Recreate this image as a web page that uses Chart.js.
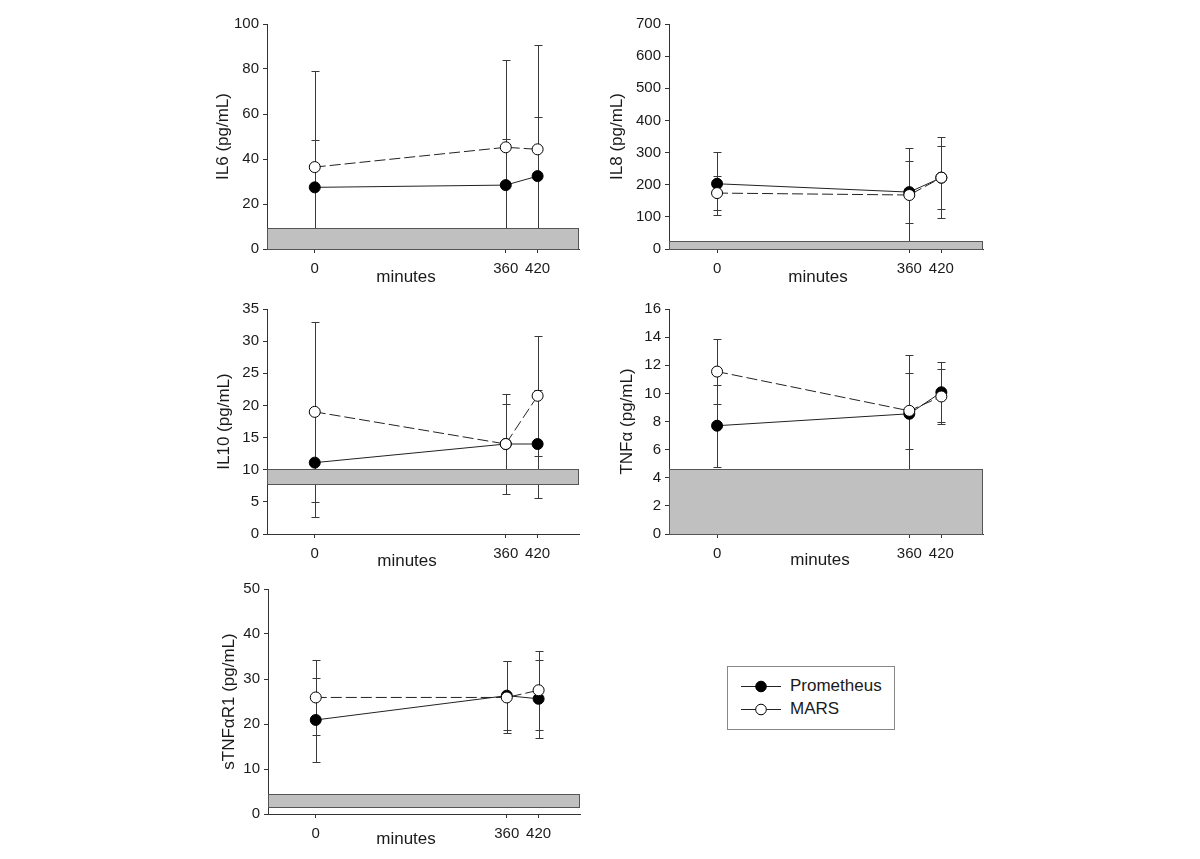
<!DOCTYPE html>
<html>
<head>
<meta charset="utf-8">
<script src="https://cdn.jsdelivr.net/npm/chart.js@4/dist/chart.umd.min.js"></script>
<style>
  html, body { margin: 0; padding: 0; background: #fff; }
  body { width: 1200px; height: 859px; position: relative; overflow: hidden; font-family: 'Liberation Sans', Arial, sans-serif; }
  .pane { position: absolute; }
  #legend { position: absolute; border: 1px solid #888; background: #fff; color: #1a1a1a; }
  .lrow { position: absolute; height: 20px; width: 150px; }
  .lrow svg { position: absolute; left: 12px; top: 0; }
  .lrow span { position: absolute; left: 62px; top: 0; line-height: 20px; font-size: 17px; white-space: nowrap; }
</style>
</head>
<body>
<div id="legend"></div>
<script>
// ---------------- data ----------------
const times = [0, 360, 420];
const timeLabels = ['0', '360', '420'];
const seriesNames = ['Prometheus', 'MARS'];

const titles = ['IL6 (pg/mL)', 'IL8 (pg/mL)', 'IL10 (pg/mL)', 'TNFα (pg/mL)', 'sTNFαR1 (pg/mL)'];
const xTitle = 'minutes';

// IL6
const il6Prometheus = [27.4, 28.4, 32.4];
const il6PrometheusErr = [21.0, 20.5, 26.4];
const il6Mars = [36.4, 45.2, 44.3];
const il6MarsErr = [42.6, 38.9, 46.5];
const il6Normal = [0, 9.3];
const il6Axis = [0, 100, 20];

// IL8
const il8Prometheus = [203, 177, 222];
const il8PrometheusErr = [98, 96, 99];
const il8Mars = [174, 168, 222];
const il8MarsErr = [54, 146, 126];
const il8Normal = [0, 26];
const il8Axis = [0, 700, 100];

// IL10
const il10Prometheus = [11.1, 14.0, 14.0];
const il10PrometheusErr = [8.4, 7.8, 8.4];
const il10Mars = [19.0, 14.0, 21.5];
const il10MarsErr = [14.0, 6.2, 9.3];
const il10Normal = [7.75, 10.05];
const il10Axis = [0, 35, 5];

// TNF alpha
const tnfPrometheus = [7.7, 8.55, 10.08];
const tnfPrometheusErr = [2.9, 4.2, 2.13];
const tnfMars = [11.55, 8.76, 9.78];
const tnfMarsErr = [2.32, 2.68, 1.95];
const tnfNormal = [0, 4.65];
const tnfAxis = [0, 16, 2];

// sTNF alpha R1
const stnfPrometheus = [20.9, 26.3, 25.6];
const stnfPrometheusErr = [9.3, 7.6, 8.7];
const stnfMars = [25.9, 25.9, 27.5];
const stnfMarsErr = [8.3, 8.0, 8.8];
const stnfNormal = [1.6, 4.45];
const stnfAxis = [0, 50, 10];

const xRange = [-90, 498];

// ---------------- layout ----------------
const layouts = [
  { left: 267, top: 23.5, w: 312, h: 225, yOff: 44, xDx: -17, xDy: 28.5 },
  { left: 669, top: 23.5, w: 314, h: 225, yOff: 52, xDx: -8, xDy: 28.5 },
  { left: 267, top: 309, w: 312, h: 225, yOff: 43, xDx: -16, xDy: 27.5 },
  { left: 669, top: 309, w: 314, h: 225, yOff: 42, xDx: -6, xDy: 26 },
  { left: 268, top: 588.5, w: 312, h: 225, yOff: 38.5, xDx: -18, xDy: 25.5 }
];

const panels = [
  [il6Prometheus, il6PrometheusErr, il6Mars, il6MarsErr, il6Normal, il6Axis],
  [il8Prometheus, il8PrometheusErr, il8Mars, il8MarsErr, il8Normal, il8Axis],
  [il10Prometheus, il10PrometheusErr, il10Mars, il10MarsErr, il10Normal, il10Axis],
  [tnfPrometheus, tnfPrometheusErr, tnfMars, tnfMarsErr, tnfNormal, tnfAxis],
  [stnfPrometheus, stnfPrometheusErr, stnfMars, stnfMarsErr, stnfNormal, stnfAxis]
];

const FONT = "'Liberation Sans', Arial, sans-serif";
const TEXT = '#1a1a1a';
const AXIS = '#333';
const PAD_L = 70, PAD_T = 15, PAD_R = 15, PAD_B = 45;

const decor = {
  id: 'decor',
  beforeDatasetsDraw(chart, args, o) {
    const { ctx, chartArea: a, scales: { x, y } } = chart;
    ctx.save();
    ctx.beginPath();
    ctx.rect(a.left, a.top - 2, a.right - a.left, a.bottom - a.top + 2);
    ctx.clip();
    ctx.strokeStyle = '#3a3a3a';
    ctx.lineWidth = 1;
    o.errors.forEach(e => {
      e.mean.forEach((m, i) => {
        const px = Math.round(x.getPixelForValue(times[i])) + 0.5;
        const hi = Math.round(y.getPixelForValue(m + e.err[i])) + 0.5;
        const lo = Math.round(y.getPixelForValue(m - e.err[i])) + 0.5;
        ctx.beginPath();
        ctx.moveTo(px, hi); ctx.lineTo(px, lo);
        ctx.moveTo(px - 4, hi); ctx.lineTo(px + 4, hi);
        ctx.moveTo(px - 4, lo); ctx.lineTo(px + 4, lo);
        ctx.stroke();
      });
    });
    ctx.restore();
    // normal range band
    const top = Math.round(y.getPixelForValue(o.band[1])) + 0.5;
    const bot = Math.round(y.getPixelForValue(o.band[0])) + 0.5;
    const l = Math.round(x.getPixelForValue(xRange[0])) + 0.5;
    const r = Math.round(x.getPixelForValue(xRange[1])) - 0.5;
    ctx.save();
    ctx.fillStyle = '#c0c0c0';
    ctx.fillRect(l, top, r - l, bot - top);
    ctx.strokeStyle = '#555';
    ctx.lineWidth = 1;
    ctx.strokeRect(l, top, r - l, bot - top);
    ctx.restore();
  },
  afterDraw(chart, args, o) {
    const { ctx, chartArea: a } = chart;
    ctx.save();
    ctx.fillStyle = TEXT;
    ctx.font = '17px ' + FONT;
    ctx.textAlign = 'center';
    ctx.textBaseline = 'middle';
    ctx.fillText(o.xTitle, (a.left + a.right) / 2 + o.xDx, a.bottom + o.xDy);
    ctx.translate(a.left - o.yOff, (a.top + a.bottom) / 2);
    ctx.rotate(-Math.PI / 2);
    ctx.fillText(o.yTitle, 0, 0);
    ctx.restore();
  }
};

panels.forEach((p, k) => {
  const [pv, pe, mv, me, band, ax] = p;
  const L = layouts[k];
  const W = L.w + PAD_L + PAD_R, H = L.h + PAD_T + PAD_B;
  const div = document.createElement('div');
  div.className = 'pane';
  div.style.left = (L.left - PAD_L) + 'px';
  div.style.top = (L.top - PAD_T) + 'px';
  div.style.width = W + 'px';
  div.style.height = H + 'px';
  const cv = document.createElement('canvas');
  cv.width = W; cv.height = H;
  cv.style.width = W + 'px'; cv.style.height = H + 'px';
  div.appendChild(cv);
  document.body.appendChild(div);

  new Chart(cv, {
    type: 'line',
    data: {
      datasets: [
        {
          label: seriesNames[0],
          data: times.map((t, i) => ({ x: t, y: pv[i] })),
          borderColor: '#222', borderWidth: 1,
          pointBackgroundColor: '#000', pointBorderColor: '#000',
          pointRadius: 5.5, pointBorderWidth: 1, order: 2, tension: 0
        },
        {
          label: seriesNames[1],
          data: times.map((t, i) => ({ x: t, y: mv[i] })),
          borderColor: '#222', borderWidth: 1, borderDash: [11, 4],
          pointBackgroundColor: '#fff', pointBorderColor: '#000',
          pointRadius: 5.5, pointBorderWidth: 1, order: 1, tension: 0
        }
      ]
    },
    options: {
      responsive: false,
      animation: false,
      events: [],
      layout: { padding: { top: PAD_T, right: PAD_R, left: 0, bottom: 0 } },
      scales: {
        x: {
          type: 'linear', min: xRange[0], max: xRange[1],
          afterBuildTicks: s => { s.ticks = times.map(v => ({ value: v })); },
          afterFit: s => { s.height = PAD_B; },
          grid: { display: true, drawOnChartArea: false, drawTicks: true, tickLength: 4, color: AXIS },
          border: { display: true, color: AXIS, width: 1 },
          ticks: {
            autoSkip: false, maxRotation: 0, padding: 7,
            color: TEXT, font: { family: FONT, size: 15 },
            callback: v => timeLabels[times.indexOf(v)]
          }
        },
        y: {
          type: 'linear', min: ax[0], max: ax[1],
          afterFit: s => { s.width = PAD_L; },
          grid: { display: true, drawOnChartArea: false, drawTicks: true, tickLength: 4, color: AXIS },
          border: { display: true, color: AXIS, width: 1 },
          ticks: { stepSize: ax[2], padding: 4, color: TEXT, font: { family: FONT, size: 15 } }
        }
      },
      plugins: {
        legend: { display: false },
        tooltip: { enabled: false },
        decor: {
          errors: [{ mean: pv, err: pe }, { mean: mv, err: me }],
          band: band,
          xTitle: xTitle, yTitle: titles[k],
          yOff: L.yOff, xDx: L.xDx, xDy: L.xDy
        }
      }
    },
    plugins: [decor]
  });
});

// ---------------- legend ----------------
const legend = document.getElementById('legend');
legend.style.left = '727px';
legend.style.top = '666px';
legend.style.width = '166px';
legend.style.height = '62px';
const legendStyles = [{ fill: '#000' }, { fill: '#fff' }];
seriesNames.forEach((name, i) => {
  const row = document.createElement('div');
  row.className = 'lrow';
  row.style.left = '0px';
  row.style.top = (9 + i * 23) + 'px';
  row.innerHTML =
    '<svg width="42" height="20" viewBox="0 0 42 20">' +
    '<line x1="1" y1="10.5" x2="41" y2="10.5" stroke="#222" stroke-width="1"/>' +
    '<circle cx="21" cy="10.5" r="5.3" fill="' + legendStyles[i].fill + '" stroke="#000" stroke-width="1"/>' +
    '</svg><span>' + name + '</span>';
  legend.appendChild(row);
});
</script>
</body>
</html>
